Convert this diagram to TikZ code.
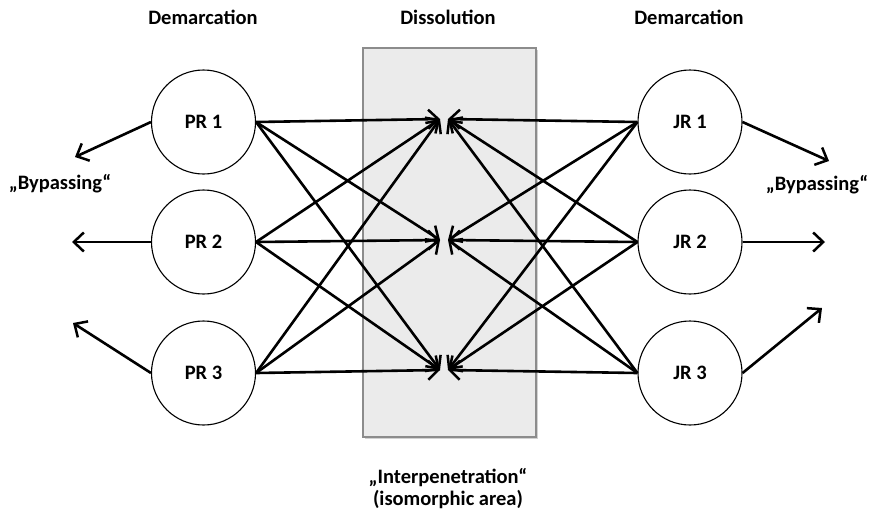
\documentclass[tikz,border=0pt]{standalone}
\usepackage{fontspec}
\setmainfont{Carlito}
\usetikzlibrary{arrows.meta,shadows}
\begin{document}
\begin{tikzpicture}[x=1pt,y=-1pt,
  actor/.style={circle,draw=black,line width=1.1pt,minimum size=104pt,inner sep=0pt,font=\bfseries\fontsize{20.5}{22}\selectfont},
  flow/.style={line width=2.6pt,-{Straight Barb[length=10pt,width=19pt,line width=2.5pt]}},
  label/.style={font=\bfseries\fontsize{20.5}{22}\selectfont,align=center}]
\useasboundingbox (0,0) rectangle (874,520);

% central dissolution zone
\node (zone) [draw=black!45,line width=1.6pt,fill=black!8,minimum width=173pt,minimum height=389pt,inner sep=0pt,
  drop shadow={shadow xshift=1.5pt,shadow yshift=-2pt,fill=black!35,opacity=0.5}] at (449.5,242.5) {};

% actors
\node (p1) [actor] at (203.5,122) {PR 1};
\node (p2) [actor] at (203.5,242) {PR 2};
\node (p3) [actor] at (203.5,373) {PR 3};
\node (j1) [actor] at (690,122) {JR 1};
\node (j2) [actor] at (690,242) {JR 2};
\node (j3) [actor] at (690,373) {JR 3};

% meeting points inside the zone
\coordinate (l1) at (440,119);
\coordinate (l2) at (440,240);
\coordinate (l3) at (440,370);
\coordinate (r1) at (448,119);
\coordinate (r2) at (448,240);
\coordinate (r3) at (448,370);

% bypassing ends
\coordinate (bl1) at (75,157);
\coordinate (bl2) at (72,242);
\coordinate (bl3) at (73,323);
\coordinate (br1) at (829,161);
\coordinate (br2) at (825,242);
\coordinate (br3) at (822,308);

\foreach \s in {p1,p2,p3}{
  \foreach \t in {l1,l2,l3}{
    \draw[flow] (\s.east) -- (\t);
  }
}
\foreach \s in {j1,j2,j3}{
  \foreach \t in {r1,r2,r3}{
    \draw[flow] (\s.west) -- (\t);
  }
}

\draw[flow] (p1.west) -- (bl1);
\draw[flow] (p2.west) -- (bl2);
\draw[flow] (p3.west) -- (bl3);
\draw[flow] (j1.east) -- (br1);
\draw[flow] (j2.east) -- (br2);
\draw[flow] (j3.east) -- (br3);

% captions
\node (t1) [label] at (203,17) {Demarcation};
\node (t2) [label] at (448,17) {Dissolution};
\node (t3) [label] at (689,17) {Demarcation};
\node (b1) [label] at (60,184) {„Bypassing“};
\node (b2) [label] at (817,185) {„Bypassing“};
\node (ip) [label] at (448,489) {„Interpenetration“\\(isomorphic area)};
\end{tikzpicture}
\end{document}
